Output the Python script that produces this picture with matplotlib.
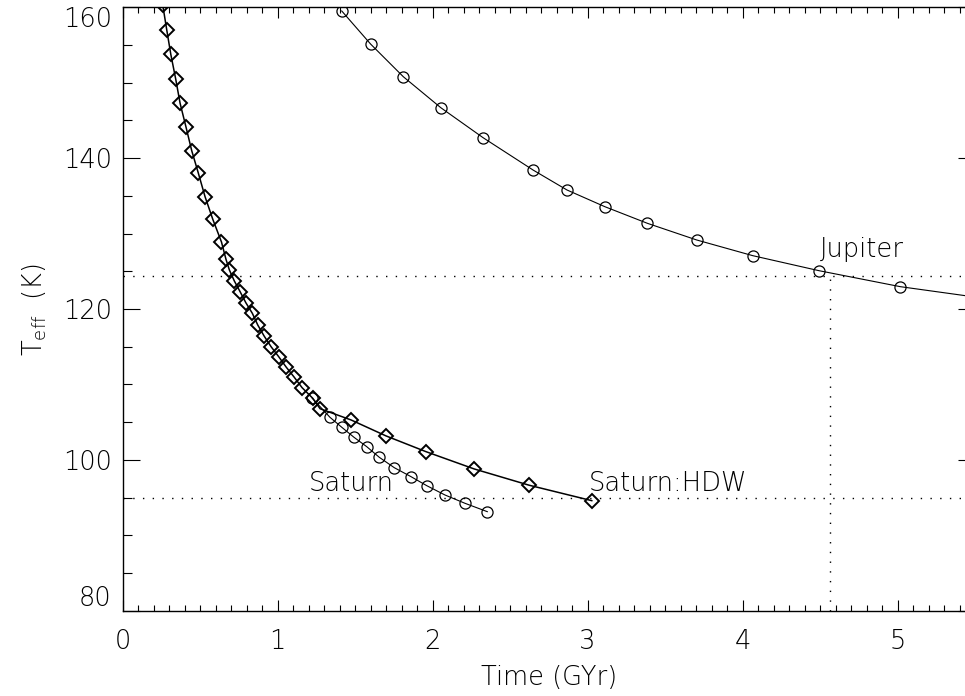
import matplotlib
matplotlib.use('Agg')
import matplotlib.pyplot as plt
from matplotlib.ticker import MultipleLocator

plt.rcParams['font.family'] = ['DejaVu Sans']
plt.rcParams['font.weight'] = 200
plt.rcParams['axes.labelweight'] = 200
plt.rcParams['mathtext.fontset'] = 'custom'
plt.rcParams['mathtext.rm'] = 'DejaVu Sans:weight=200'
plt.rcParams['mathtext.default'] = 'rm'

# Saturn, HDW model (diamonds)
hdw_time = [0.258, 0.284, 0.310, 0.342, 0.370, 0.408, 0.445, 0.488, 0.531, 0.581,
            0.637, 0.666, 0.688, 0.720, 0.757, 0.794, 0.836, 0.871, 0.912, 0.957,
            1.006, 1.054, 1.105, 1.157, 1.226, 1.273, 1.473, 1.699, 1.957, 2.268,
            2.623, 3.026]
hdw_teff = [160.3, 156.99, 153.77, 150.45, 147.27, 144.13, 140.99, 137.99, 134.89, 131.89,
            128.88, 126.59, 125.17, 123.71, 122.30, 120.84, 119.43, 117.88, 116.42, 115.0,
            113.68, 112.31, 110.99, 109.57, 108.16, 106.78, 105.29, 103.17, 101.08, 98.79,
            96.63, 94.59]

# Saturn (circles)
sat_time = [1.223, 1.337, 1.413, 1.492, 1.574, 1.655, 1.752, 1.860, 1.961, 2.079,
            2.208, 2.352]
sat_teff = [108.16, 105.64, 104.32, 102.99, 101.75, 100.34, 98.96, 97.77, 96.58, 95.34,
            94.24, 93.13]

# Jupiter (circles)
jup_time = [1.413, 1.599, 1.810, 2.052, 2.325, 2.647, 2.866, 3.111, 3.385, 3.703,
            4.065, 4.492, 5.017, 5.600]
jup_teff = [159.51, 155.13, 150.80, 146.69, 142.71, 138.43, 135.78, 133.56, 131.36, 129.15,
            127.07, 125.08, 122.96, 121.3]

JUP_AGE = 4.56
JUP_TEFF = 124.4
SAT_TEFF = 95.0

fig = plt.figure(figsize=(9.65, 6.96), dpi=100)
ax = fig.add_axes([0.1272, 0.12256, 0.8834, 0.86695])

ax.plot(hdw_time, hdw_teff, color='k', lw=1.1, marker='D', ms=7.0,
        mfc='none', mec='k', mew=1.4)
ax.plot(sat_time, sat_teff, color='k', lw=0.8, marker='o', ms=8.0,
        mfc='none', mec='k', mew=0.9)
ax.plot(jup_time, jup_teff, color='k', lw=0.8, marker='o', ms=8.0,
        mfc='none', mec='k', mew=0.9)

dots = (0, (1, 6))
ax.axhline(JUP_TEFF, color='k', lw=1.0, ls=dots)
ax.axhline(SAT_TEFF, color='k', lw=1.0, ls=dots)
ax.vlines(JUP_AGE, 80, JUP_TEFF, color='k', lw=1.0, ls=dots)

fs = 18.5
ax.text(4.499, 126.94, 'Jupiter', fontsize=fs, ha='left', va='baseline')
ax.text(1.202, 95.91, 'Saturn', fontsize=fs, ha='left', va='baseline')
ax.text(3.004, 95.91, 'Saturn:HDW', fontsize=fs, ha='left', va='baseline')

ax.set_xlim(0, 5.5)
ax.set_ylim(80, 160)
ax.xaxis.set_major_locator(MultipleLocator(1))
ax.xaxis.set_minor_locator(MultipleLocator(0.1))
ax.yaxis.set_major_locator(MultipleLocator(20))
ax.yaxis.set_minor_locator(MultipleLocator(5))

ax.tick_params(axis='x', which='both', direction='in', top=True, bottom=True,
               width=0.8, labelsize=fs, pad=13)
ax.tick_params(axis='x', which='major', length=8)
ax.tick_params(axis='x', which='minor', length=4.2)
ax.tick_params(axis='y', which='both', direction='in', left=True, right=True,
               width=0.8, labelsize=fs, pad=8)
ax.tick_params(axis='y', which='major', length=12.2)
ax.tick_params(axis='y', which='minor', length=6.5)
for s in ax.spines.values():
    s.set_linewidth(1.0)

ax.set_xlabel('Time (GYr)', fontsize=fs)
ax.set_ylabel(r'$T_{eff}$  (K)', fontsize=fs)
ax.xaxis.set_label_coords(0.5, -0.09)
ax.yaxis.set_label_coords(-0.086, 0.5)

# keep the end labels of the y axis inside the figure
fig.canvas.draw()
for tick in ax.yaxis.get_major_ticks():
    if abs(tick.get_loc() - 160) < 1e-6:
        tick.label1.set_va('top')
    elif abs(tick.get_loc() - 80) < 1e-6:
        tick.label1.set_va('bottom')

fig.savefig('out.png', dpi=100)
